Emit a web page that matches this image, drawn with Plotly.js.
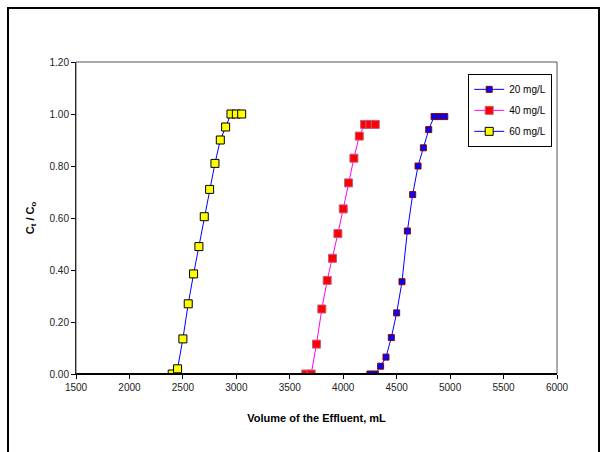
<!DOCTYPE html>
<html><head><meta charset="utf-8">
<script src="https://cdn.plot.ly/plotly-3.0.1.min.js"></script>
<style>html,body{margin:0;padding:0;background:#fff}#c{position:absolute;left:0;top:0;width:600px;height:452px}#b{position:absolute;left:7px;top:7px;width:589px;height:460px;border:2px solid #000;pointer-events:none}</style>
</head><body><div id="c"></div><div id="b"></div>
<script>
const x20 = [4250,4300,4350,4400,4450,4500,4550,4600,4650,4700,4750,4800,4850,4900,4950];
const y20 = [0.00,0.00,0.03,0.065,0.14,0.235,0.355,0.55,0.69,0.80,0.87,0.94,0.99,0.99,0.99];
const x40 = [3650,3700,3750,3800,3850,3900,3950,4000,4050,4100,4150,4200,4250,4300];
const y40 = [0.00,0.00,0.115,0.25,0.36,0.445,0.54,0.635,0.735,0.83,0.915,0.96,0.96,0.96];
const x60 = [2400,2450,2500,2550,2600,2650,2700,2750,2800,2850,2900,2950,3000,3050];
const y60 = [0.00,0.02,0.135,0.27,0.385,0.49,0.605,0.71,0.81,0.90,0.95,1.00,1.00,1.00];
const names = ['20 mg/L','40 mg/L','60 mg/L'];
const xTicks = [1500,2000,2500,3000,3500,4000,4500,5000,5500,6000];
const yTicks = [0,0.2,0.4,0.6,0.8,1.0,1.2];

const F = 'Liberation Sans, Arial, sans-serif';
const traces = [
  {x:x20,y:y20,name:names[0],legendgroup:'a',mode:'lines+markers',type:'scatter',
   line:{color:'#0000ff',width:1},marker:{symbol:'square',size:6,color:'#0000ff',line:{color:'#8b0000',width:1}}},
  {x:x40,y:y40,name:names[1],legendgroup:'b',mode:'lines+markers',type:'scatter',
   line:{color:'#ff00ff',width:1},marker:{symbol:'square',size:8,color:'#ff0000',line:{color:'#c06080',width:1}}},
  {x:x60,y:y60,name:names[2],legendgroup:'c',mode:'lines+markers',type:'scatter',
   line:{color:'#0000ff',width:1},marker:{symbol:'square',size:8,color:'#ffff00',line:{color:'#000000',width:1}}}
];
const layout = {
  width:600,height:452,margin:{l:76,r:43,t:62,b:78},
  paper_bgcolor:'#fff',plot_bgcolor:'#fff',
  font:{family:F,size:10,color:'#000'},
  showlegend:true,
  legend:{x:0.99,y:0.962,xanchor:'right',yanchor:'top',bordercolor:'#000',borderwidth:1,
    bgcolor:'#fff',font:{family:F,size:10},tracegroupgap:2,itemwidth:30},
  xaxis:{range:[1500,6000],tickvals:xTicks,ticktext:xTicks.map(String),ticks:'outside',ticklen:4,
    tickcolor:'#000',showline:true,linecolor:'#000',linewidth:1,mirror:false,showgrid:false,zeroline:false,
    tickfont:{family:F,size:10,color:'#222'},
    title:{text:'<b>Volume of the Effluent, mL</b>',font:{family:F,size:11},standoff:22}},
  yaxis:{range:[0,1.2],tickvals:yTicks,ticktext:yTicks.map(v=>v.toFixed(2)),ticks:'outside',ticklen:4,
    tickcolor:'#000',showline:true,linecolor:'#000',linewidth:1,showgrid:false,zeroline:false,
    tickfont:{family:F,size:10,color:'#222'},
    title:{text:'<b>C<sub>t</sub> / C<sub>o</sub></b>',font:{family:F,size:11},standoff:12}},
  shapes:[{type:'rect',xref:'paper',yref:'paper',x0:0,x1:1,y0:0,y1:1,line:{color:'#555',width:1}},
          {type:'line',xref:'paper',yref:'paper',x0:0,x1:1,y0:0,y1:0,line:{color:'#000',width:2}}]
};
Plotly.newPlot('c',traces,layout,{displayModeBar:false,staticPlot:true});
</script></body></html>
